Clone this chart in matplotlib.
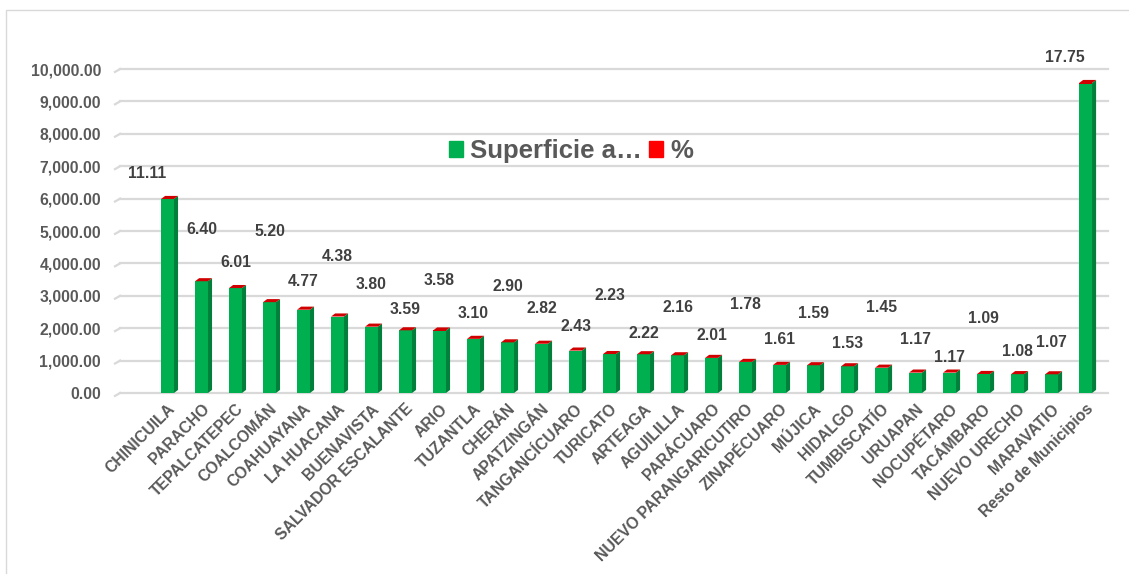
import matplotlib.pyplot as plt
import numpy as np
from matplotlib.patches import Patch, Polygon, Rectangle

plt.rcParams['font.family'] = ['Liberation Sans', 'DejaVu Sans']
plt.rcParams['font.weight'] = 'bold'

municipios = ['CHINICUILA', 'PARACHO', 'TEPALCATEPEC', 'COALCOMÁN', 'COAHUAYANA',
              'LA HUACANA', 'BUENAVISTA', 'SALVADOR ESCALANTE', 'ARIO', 'TUZANTLA',
              'CHERÁN', 'APATZINGÁN', 'TANGANCÍCUARO', 'TURICATO', 'ARTEAGA',
              'AGUILILLA', 'PARÁCUARO', 'NUEVO PARANGARICUTIRO', 'ZINAPÉCUARO',
              'MÚJICA', 'HIDALGO', 'TUMBISCATÍO', 'URUAPAN', 'NOCUPÉTARO',
              'TACÁMBARO', 'NUEVO URECHO', 'MARAVATIO', 'Resto de Municipios']
superficie = [5977, 3443, 3233, 2798, 2566, 2356, 2044, 1931, 1926, 1668,
              1560, 1517, 1307, 1200, 1194, 1162, 1081, 958, 866, 855,
              823, 780, 629, 629, 586, 581, 576, 9550]
porcentaje = [11.11, 6.40, 6.01, 5.20, 4.77, 4.38, 3.80, 3.59, 3.58, 3.10,
              2.90, 2.82, 2.43, 2.23, 2.22, 2.16, 2.01, 1.78, 1.61, 1.59,
              1.53, 1.45, 1.17, 1.17, 1.09, 1.08, 1.07, 17.75]

# where the % labels sit (hand-moved in the original)
label_y = [6760, 5060, 4040, 4970, 3430, 4200, 3360, 2590, 3460, 2440,
           3300, 2620, 2040, 3020, 1850, 2650, 1760, 2720, 1640, 2440,
           1540, 2650, 1640, 1110, 2310, 1270, 1570, 10370]
label_dx = np.zeros(len(municipios))
label_dx[0] = -0.6
label_dx[-1] = -0.6

green = '#00B050'
green_side = '#00803A'
red = '#D00000'
grid_c = '#D9D9D9'
txt = '#595959'

W, H = 1129, 574
fig = plt.figure(figsize=(W / 100, H / 100), dpi=100)
ax = fig.add_axes([115 / W, 1 - 393 / H, (1108 - 115) / W, (393 - 69) / H])

x = np.arange(len(municipios))
w = 0.38
dx, dy = 0.12, 95   # fake 3D depth

xl, xr = -1.544, 27.66
ax.set_xlim(xl, xr)
ax.set_ylim(0, 10000)

ticks = np.arange(0, 10001, 1000)
for t in ticks:
    ax.plot([xl + 0.15, xr], [t, t], color=grid_c, lw=1.6, zorder=0, clip_on=False)
    ax.plot([xl, xl + 0.15], [t - 90, t], color=grid_c, lw=1.6, zorder=0, clip_on=False)

ax.bar(x, superficie, w, color=green, zorder=2)
ax.bar(x, porcentaje, w, bottom=superficie, color=red, zorder=2)
for xi, v, p in zip(x, superficie, porcentaje):
    top = v + p
    side = Polygon([(xi + w / 2, 0), (xi + w / 2 + dx, dy), (xi + w / 2 + dx, top + dy),
                    (xi + w / 2, top)], closed=True, color=green_side, zorder=2, lw=0)
    cap = Polygon([(xi - w / 2, top), (xi + w / 2, top), (xi + w / 2 + dx, top + dy),
                   (xi - w / 2 + dx, top + dy)], closed=True, color=red, zorder=3, lw=0)
    ax.add_patch(side)
    ax.add_patch(cap)

for xi, p, ly, ldx in zip(x, porcentaje, label_y, label_dx):
    ax.text(xi + ldx, ly, f'{p:.2f}', ha='center', va='center', fontsize=11.3,
            color='#404040', fontweight='bold')

ax.set_yticks(ticks)
ax.set_yticklabels([f'{t:,.2f}' for t in ticks], fontweight='bold')
ax.set_xticks(x)
ax.set_xticklabels(municipios, rotation=45, ha='right', va='top', rotation_mode='anchor',
                   fontweight='bold')
ax.tick_params(axis='y', length=0, pad=10, labelsize=11.3, labelcolor=txt)
ax.tick_params(axis='x', length=0, pad=6, labelsize=11.3, labelcolor=txt)
for s in ax.spines.values():
    s.set_visible(False)

handles = [Patch(color=green, label='Superficie a…'), Patch(color='#FF0000', label='%')]
fig.legend(handles=handles, loc='center', bbox_to_anchor=(571 / W, 1 - 151 / H), ncol=2,
           frameon=False, handlelength=0.55, handleheight=0.55,
           handletextpad=0.3, columnspacing=0.25, labelcolor=txt,
           prop={'weight': 'bold', 'size': 18.5})

fig.patches.append(Rectangle((6 / W, -0.1), 1.2, 1 - 10 / H + 0.1, transform=fig.transFigure,
                             fill=False, edgecolor=grid_c, lw=1))

fig.savefig('out.png', dpi=100)
